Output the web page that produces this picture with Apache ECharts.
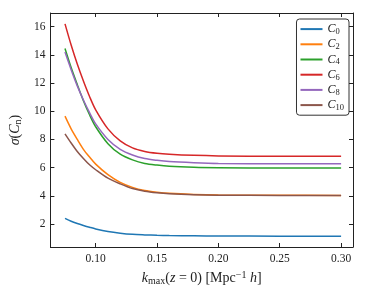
<!DOCTYPE html>
<html>
<head>
<meta charset="utf-8">
<script src="https://cdn.jsdelivr.net/npm/echarts@6/dist/echarts.min.js"></script>
<style>html,body{margin:0;padding:0;background:#fff;}#chart{width:374px;height:293px;}</style>
</head>
<body>
<div id="chart"></div>
<script>
const kGrid = [0.075,0.08,0.085,0.09,0.095,0.10,0.11,0.12,0.13,0.14,0.15,0.16,0.18,0.20,0.25,0.30];
const seriesNames = ['C0','C2','C4','C6','C8','C10'];
const C0  = [2.4, 2.2, 2.04, 1.9, 1.77, 1.65, 1.47, 1.35, 1.27, 1.23, 1.2, 1.18, 1.16, 1.15, 1.14, 1.13];
const C2  = [9.65, 8.75, 8.0, 7.3, 6.75, 6.25, 5.5, 4.95, 4.6, 4.38, 4.26, 4.18, 4.1, 4.06, 4.04, 4.03];
const C4  = [14.45, 13.1, 11.9, 10.75, 9.75, 8.9, 7.7, 6.95, 6.55, 6.3, 6.18, 6.1, 6.03, 6.0, 5.97, 5.97];
const C6  = [16.2, 14.7, 13.35, 12.15, 11.05, 10.1, 8.75, 7.9, 7.4, 7.15, 7.02, 6.95, 6.87, 6.83, 6.8, 6.8];
const C8  = [14.2, 12.95, 11.8, 10.8, 9.9, 9.1, 8.0, 7.3, 6.9, 6.65, 6.52, 6.43, 6.35, 6.3, 6.28, 6.28];
const C10 = [8.4, 7.75, 7.15, 6.65, 6.2, 5.85, 5.25, 4.85, 4.52, 4.33, 4.22, 4.15, 4.08, 4.05, 4.03, 4.03];
const xTicks = [0.10, 0.15, 0.20, 0.25, 0.30];
const yTicks = [2, 4, 6, 8, 10, 12, 14, 16];
const colors = ['#1f77b4','#ff7f0e','#2ca02c','#d62728','#9467bd','#8c564b'];
const allValues = [C0, C2, C4, C6, C8, C10];

const serif = 'Liberation Serif';
const txt = '#222';
const richBase = {
  n: {fontFamily: serif, fontSize: 14, color: txt},
  i: {fontFamily: serif, fontStyle: 'italic', fontSize: 14, color: txt},
  sub: {fontFamily: serif, fontSize: 10, color: txt, verticalAlign: 'bottom', padding: [6,0,0,0]},
  sup: {fontFamily: serif, fontSize: 10, color: txt, verticalAlign: 'top', padding: [0,0,6,0]}
};

const series = seriesNames.map((nm, idx) => ({
  name: nm,
  type: 'line',
  data: kGrid.map((k, j) => [k, allValues[idx][j]]),
  showSymbol: false,
  symbol: 'none',
  smooth: 0.3,
  lineStyle: {width: 1.5, color: colors[idx]},
  itemStyle: {color: colors[idx]}
}));

const axCommon = {
  axisLine: {show: true, lineStyle: {color: '#222', width: 1}},
  splitLine: {show: false}
};

const chart = echarts.init(document.getElementById('chart'), null, {renderer: 'canvas'});
chart.setOption({
  animation: false,
  color: colors,
  grid: {left: 41, right: 21, top: 13, bottom: 46, containLabel: false},
  legend: {
    orient: 'vertical',
    right: 25, top: 19,
    data: seriesNames,
    icon: 'rect',
    itemWidth: 22, itemHeight: 2, itemGap: 1,
    borderColor: '#333', borderWidth: 1, borderRadius: 3,
    padding: [3, 5, 3, 4],
    backgroundColor: '#fff',
    formatter: name => '{i|C}{sub|' + name.slice(1) + '}',
    textStyle: {
      height: 14.2, lineHeight: 14.2,
      rich: {
        i: {fontFamily: serif, fontStyle: 'italic', fontSize: 12, color: txt},
        sub: {fontFamily: serif, fontSize: 8.5, color: txt, verticalAlign: 'bottom', padding: [5,0,0,0]}
      }
    }
  },
  xAxis: [
    Object.assign({}, axCommon, {
      type: 'value', min: 0.0631, max: 0.3097, position: 'bottom',
      axisTick: {show: true, inside: true, length: 4, customValues: xTicks, lineStyle: {color: '#222'}},
      axisLabel: {show: true, customValues: xTicks, formatter: v => v.toFixed(2), margin: 6,
        fontFamily: serif, fontSize: 11.5, color: txt},
      name: '{i|k}{sub|max}{n|(}{i|z}{n| = 0) [Mpc}{sup|−1}{n| }{i|h}{n|]}',
      nameLocation: 'middle', nameGap: 22,
      nameTextStyle: {rich: richBase}
    }),
    Object.assign({}, axCommon, {
      type: 'value', min: 0.0631, max: 0.3097, position: 'top',
      axisTick: {show: true, inside: true, length: 4, customValues: xTicks, lineStyle: {color: '#222'}},
      axisLabel: {show: false}
    })
  ],
  yAxis: [
    Object.assign({}, axCommon, {
      type: 'value', min: 0.37, max: 16.97, position: 'left',
      axisTick: {show: true, inside: true, length: 4, customValues: yTicks, lineStyle: {color: '#222'}},
      axisLabel: {show: true, customValues: yTicks, margin: 5,
        fontFamily: serif, fontSize: 11.5, color: txt},
      name: '{i|σ}{n|(}{i|C}{sub|n}{n|)}',
      nameLocation: 'middle', nameGap: 24,
      nameTextStyle: {rich: richBase}
    }),
    Object.assign({}, axCommon, {
      type: 'value', min: 0.37, max: 16.97, position: 'right',
      axisTick: {show: true, inside: true, length: 4, customValues: yTicks, lineStyle: {color: '#222'}},
      axisLabel: {show: false}
    })
  ],
  series: series
});
</script>
</body>
</html>
